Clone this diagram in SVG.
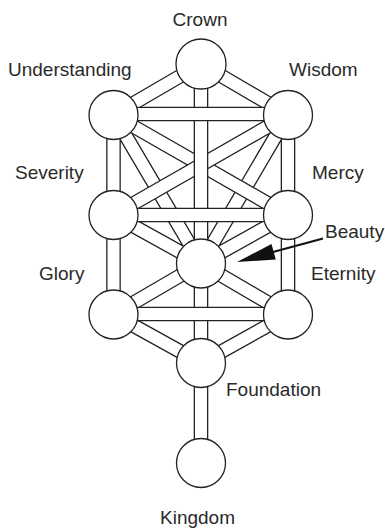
<svg xmlns="http://www.w3.org/2000/svg" width="385" height="529" viewBox="0 0 385 529">
<style>
.o{stroke:#222;stroke-width:14.6;fill:none;stroke-linecap:butt}
.i{stroke:#fff;stroke-width:12;fill:none;stroke-linecap:butt}
.n{fill:#fff;stroke:#222;stroke-width:1.3}
.t{font-family:"Liberation Sans",Arial,sans-serif;font-size:19px;fill:#2a2a2a}
</style>
<defs>
<path id="base" d="M201,64L113.5,115 M201,64L288,115 M113.5,115L201,263.5 M288,115L201,263.5 M113.5,215L201,263.5 M288,215L201,263.5 M113.5,314.5L201,263.5 M288,314.5L201,263.5 M113.5,314.5L201,363 M288,314.5L201,363 M113.5,115V314.5 M288,115V314.5"/>
<path id="um" d="M113.5,115L288,215"/>
<path id="ws" d="M288,115L113.5,215"/>
<path id="vt" d="M201,64V463"/>
<path id="h1" d="M113.5,114H288"/>
<path id="h2" d="M113.5,215H288"/>
<path id="h3" d="M113.5,314H288"/>
</defs>
<rect width="385" height="529" fill="#fff"/>
<g id="connectors">
<use href="#base" class="o"/><use href="#base" class="i"/>
<use href="#um" class="o"/><use href="#um" class="i"/>
<use href="#ws" class="o"/><use href="#ws" class="i"/>
<use href="#vt" class="o"/><use href="#vt" class="i"/>
<use href="#h1" class="o"/><use href="#h1" class="i"/>
<use href="#h2" class="o"/><use href="#h2" class="i"/>
<use href="#h3" class="o"/><use href="#h3" class="i"/>
<path d="M323,238.5L273,252" stroke="#111" stroke-width="2.2" fill="none"/>
<polygon points="237,262 271.5,244 275.8,259.5" fill="#111"/>
</g>
<g id="crown"><circle class="n" cx="201" cy="64" r="25"/><text class="t" x="200" y="26" text-anchor="middle">Crown</text></g>
<g id="understanding"><circle class="n" cx="113.5" cy="115" r="24.5"/><text class="t" x="8" y="76">Understanding</text></g>
<g id="wisdom"><circle class="n" cx="288" cy="115" r="24.5"/><text class="t" x="289" y="76">Wisdom</text></g>
<g id="severity"><circle class="n" cx="113.5" cy="215" r="24.5"/><text class="t" x="15" y="179">Severity</text></g>
<g id="mercy"><circle class="n" cx="288" cy="215" r="24.5"/><text class="t" x="312" y="179">Mercy</text></g>
<g id="beauty"><circle class="n" cx="201" cy="263.5" r="24.5"/><text class="t" x="325" y="238">Beauty</text></g>
<g id="glory"><circle class="n" cx="113.5" cy="314.5" r="24.5"/><text class="t" x="39" y="280">Glory</text></g>
<g id="eternity"><circle class="n" cx="288" cy="314.5" r="24.5"/><text class="t" x="311" y="280">Eternity</text></g>
<g id="foundation"><circle class="n" cx="201" cy="363" r="24.5"/><text class="t" x="226" y="396">Foundation</text></g>
<g id="kingdom"><circle class="n" cx="201" cy="463" r="24.5"/><text class="t" x="160" y="524">Kingdom</text></g>
</svg>
